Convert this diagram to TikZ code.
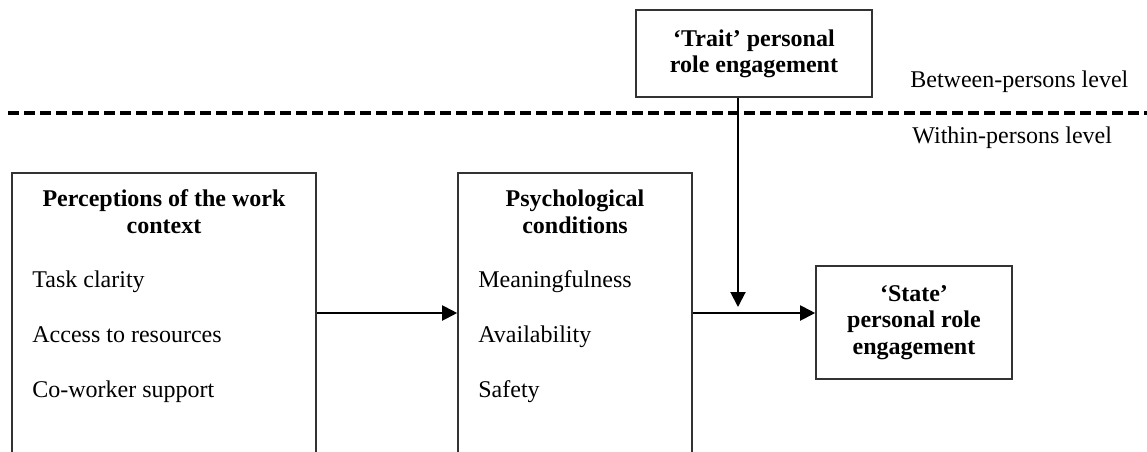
\documentclass[tikz,border=0pt]{standalone}
\usepackage{fontspec}
\setmainfont{Liberation Serif}
\usetikzlibrary{arrows.meta}

\tikzset{
  box/.style={draw=black!80, line width=0.8pt, inner sep=0pt, align=center},
  bold/.style={font=\fontsize{12}{#1}\selectfont\bfseries},
  head/.style={anchor=north, inner sep=0pt, align=center, bold=13.5pt},
  item/.style={anchor=base west, inner sep=0pt, font=\fontsize{12}{14}\selectfont},
  link/.style={line width=1pt, -{Triangle[length=7.5pt,width=7.5pt]}},
  divide/.style={line width=2pt, dash pattern=on 5.5pt off 2.5pt},
}

\begin{document}
\begin{tikzpicture}[x=0.5pt, y=-0.5pt]
  %%%%% START %%%%%
  \useasboundingbox (0,0) rectangle (1147,451);
  \clip (0,0) rectangle (1147,451);

  % levels
  \draw[divide] (8,113) -- (1147,113);
  \node[item] (between) at (910,87) {Between-persons level};
  \node[item] (within) at (912,143) {Within-persons level};

  \node[box, bold=13pt, minimum width=118pt, minimum height=43.5pt] (trait) at (754,53.5) {‘Trait’ personal\\role engagement};

  % work context
  \node[box, anchor=north, minimum width=152pt, minimum height=160pt] (context) at (164,172) {};
  \node[head] (contexthead) at (164,189) {Perceptions of the work\\context};
  \node[item] (clarity) at (32,287) {Task clarity};
  \node[item] (resources) at (32,342) {Access to resources};
  \node[item] (support) at (32,397) {Co-worker support};

  % conditions
  \node[box, anchor=north, minimum width=117pt, minimum height=160pt] (psych) at (575,172) {};
  \node[head] (psychhead) at (575,189) {Psychological\\conditions};
  \node[item] (meaning) at (478,287) {Meaningfulness};
  \node[item] (avail) at (478,342) {Availability};
  \node[item] (safety) at (478,397) {Safety};

  \node[box, bold=13.25pt, minimum width=98pt, minimum height=56.5pt] (state) at (914,322.5) {‘State’\\personal role\\engagement};

  \coordinate (lvl) at (0,313);
  \coordinate (tip) at (738,307);
  \draw[link] (context.east |- lvl) -- (psych.west |- lvl);
  \draw[link] (psych.east |- lvl) -- (state.west |- lvl);
  \draw[link] (tip |- trait.south) -- (tip);
  %%%%% END %%%%%
\end{tikzpicture}
\end{document}
